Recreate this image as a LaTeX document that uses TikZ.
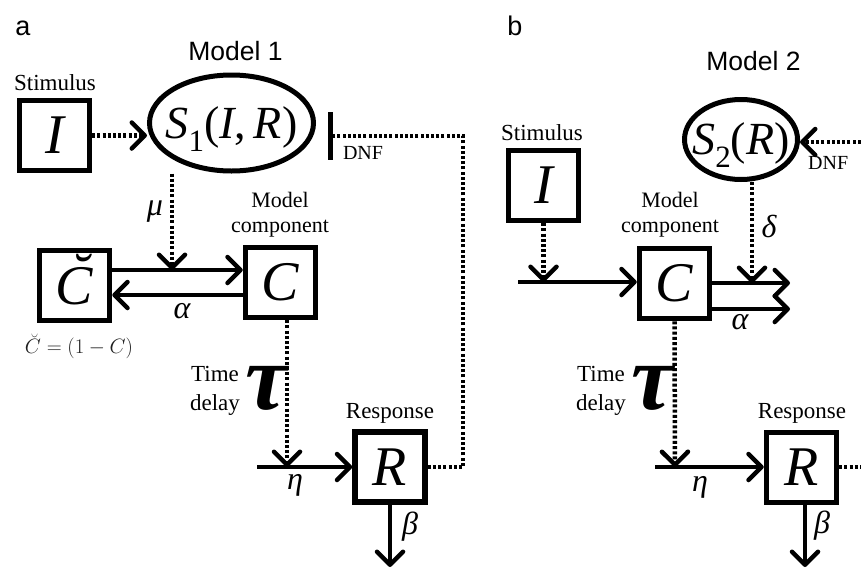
\documentclass[tikz,border=0pt]{standalone}
\usepackage{fontspec}
\setmainfont{Liberation Serif}
\newfontfamily\sansf{Liberation Sans}
\usetikzlibrary{arrows.meta,shapes.geometric}
\newcommand\brC{\ooalign{C\cr\hidewidth\kern0.18em\raisebox{0.2em}{\char"02D8}\hidewidth\cr}}
\newcommand\subn[1]{\raisebox{-0.28em}{\fontsize{31}{31}\selectfont\upshape #1}}
\newcommand\zb[1]{\raisebox{-0.33em}[0pt][0pt]{\makebox[0pt]{#1}}}
\tikzset{
  box/.style={draw, line width=5.5pt, minimum size=70pt, inner sep=0pt,
    font=\fontsize{56}{56}\selectfont\itshape},
  ell/.style={draw, ellipse, line width=5pt, inner sep=0pt,
    font=\fontsize{46}{46}\selectfont},
  tip/.style={-{Straight Barb[length=13pt,width=26pt,line cap=round,line join=round]}},
  solidarrow/.style={line width=4.5pt, tip},
  dotline/.style={line width=4.5pt, dash pattern=on 3pt off 2.2pt},
  lab/.style={font=\fontsize{23}{29}\selectfont, align=center, inner sep=0pt},
  comp/.style={font=\fontsize{22}{25}\selectfont, align=center, inner sep=0pt},
  greek/.style={font=\fontsize{32}{32}\selectfont\itshape, inner sep=0pt},
  panel/.style={font=\sansf\fontsize{27}{27}\selectfont, inner sep=0pt, anchor=base},
  modl/.style={font=\sansf\fontsize{26.5}{26.5}\selectfont, inner sep=0pt, anchor=base},
  taul/.style={font=\fontsize{94}{94}\selectfont\bfseries\itshape, inner sep=0pt},
}
\begin{document}
\begin{tikzpicture}[x=1pt,y=-1pt]
\useasboundingbox (0,0) rectangle (861,571);
\clip (0,0) rectangle (861,571);
% ---------------- panel a ----------------
\node[panel] (pa) at (23,35) {a};
\node[modl] (m1) at (235.5,60) {Model 1};
\node[lab] (stim1) at (55,83) {Stimulus};
\node[box] (I1) at (54.5,135.5) {I};
\node[ell, minimum width=164pt, minimum height=96pt] (S1) at (231.5,123)
  {\zb{\textit{S}\subn{1}(\textit{I},\,\textit{R})}};
\node[box] (Cb) at (74.5,285.5) {\brC};
\node[box] (C1) at (280.5,282.5) {C};
\node[box] (R1) at (390,467) {R};
\node[comp] (mc1) at (280,215) {Model\\component};
\node[lab] (resp1) at (390,413) {Response};
\node[lab] (td1) at (215,391) {Time\\delay};
\node[taul] (tau1) at (266,388) {τ};
\node[greek] (mu1) at (155,212) {μ};
\node[greek] (al1) at (182,311) {α};
\node[greek] (eta1l) at (295,485) {η};
\node[greek] (be1) at (410,527) {β};
\node[inner sep=0pt, font=\fontsize{20}{20}\selectfont, text=black!88] (cap1) at (79,346) {$\breve{C}=(1-C)$};
\node[inner sep=0pt, font=\fontsize{20}{20}\selectfont] (dnf1) at (363,153) {DNF};
\coordinate (bar) at (330.5,136);
\coordinate (fbk) at (463,136);
\coordinate (mu) at (172,270);
\coordinate (alp) at (180,295);
\coordinate (eta1) at (287,467);
\coordinate (in1) at (257,467);
\coordinate (out1) at (390,567);
\draw[dotline, tip] (I1.east) -- (I1.east -| S1.west);
\draw[line width=5pt] ([yshift=24pt]bar) -- ([yshift=-24pt]bar);
\draw[dotline] (R1.east) -| (fbk) -- ([xshift=2.5pt]bar);
\draw[dotline, tip] (S1.south -| mu) -- (mu);
\draw[solidarrow] (Cb.east |- mu) -- (C1.west |- mu);
\draw[solidarrow] (C1.west |- alp) -- (Cb.east |- alp);
\draw[dotline, tip] (C1.south -| eta1) -- (eta1);
\draw[solidarrow] (in1) -- (R1.west |- in1);
\draw[solidarrow] (R1.south) -- (out1);
% ---------------- panel b ----------------
\node[panel] (pb) at (515,35) {b};
\node[modl] (m2) at (753.5,70) {Model 2};
\node[lab] (stim2) at (542,133) {Stimulus};
\node[box] (I2) at (543.5,185.5) {I};
\node[ell, minimum width=113pt, minimum height=80pt] (S2) at (741,139.5)
  {\zb{\textit{S}\subn{2}(\textit{R})}};
\node[box] (C2) at (674.5,283.5) {C};
\node[box] (R2) at (801.5,467.5) {R};
\node[comp] (mc2) at (670,215) {Model\\component};
\node[lab] (resp2) at (802,413) {Response};
\node[lab] (td2) at (601,391) {Time\\delay};
\node[taul] (tau2) at (652,388) {τ};
\node[greek] (de2) at (769,226) {δ};
\node[greek] (al2) at (740,322) {α};
\node[greek] (eta2l) at (700,487) {η};
\node[greek] (be2) at (822,526) {β};
\node[inner sep=0pt, anchor=west, font=\fontsize{20}{20}\selectfont] (dnf2l) at (808,163) {DNF};
\coordinate (dnf2) at (866,142);
\coordinate (inb) at (543.5,282);
\coordinate (inb0) at (518,282);
\coordinate (del) at (752,283);
\coordinate (o1) at (790,283);
\coordinate (o2) at (790,309);
\coordinate (eta2) at (675,467);
\coordinate (in2) at (655,467);
\coordinate (out2) at (805,567);
\coordinate (fb2) at (866,467);
\draw[dotline, tip] (dnf2) -- (dnf2 -| S2.east);
\draw[dotline, tip] (I2.south) -- (inb);
\draw[solidarrow] (inb0) -- (C2.west |- inb0);
\draw[dotline, tip] (S2.south -| del) -- (del);
\draw[solidarrow] (C2.east |- o1) -- (o1);
\draw[solidarrow] (C2.east |- o2) -- (o2);
\draw[dotline, tip] (C2.south) -- (eta2);
\draw[solidarrow] (in2) -- (R2.west |- in2);
\draw[solidarrow] (R2.south -| out2) -- (out2);
\draw[dotline] (R2.east |- fb2) -- (fb2);
\end{tikzpicture}
\end{document}
